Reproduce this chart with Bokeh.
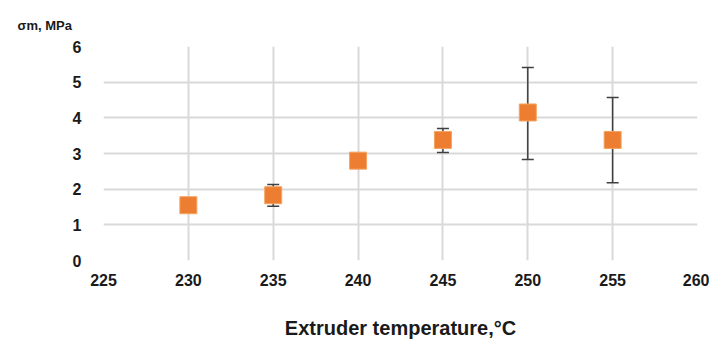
from bokeh.plotting import figure
from bokeh.models import ColumnDataSource, Whisker, TeeHead, FixedTicker, Title
from bokeh.embed import file_html
from bokeh.resources import INLINE

temperature = [230, 235, 240, 245, 250, 255]
sigma_m = [1.55, 1.83, 2.80, 3.38, 4.15, 3.38]
err_upper = [1.55, 2.13, 2.80, 3.70, 5.41, 4.57]
err_lower = [1.55, 1.52, 2.80, 3.03, 2.83, 2.18]
x_ticks = [225, 230, 235, 240, 245, 250, 255, 260]
y_ticks = [0, 1, 2, 3, 4, 5, 6]

src = ColumnDataSource(dict(x=temperature, y=sigma_m, upper=err_upper, lower=err_lower))

p = figure(width=709, height=342, output_backend="svg", toolbar_location=None,
           x_range=(225, 260), y_range=(0, 6),
           min_border_left=103, min_border_right=12, min_border_top=46, min_border_bottom=82)
p.outline_line_color = None
p.background_fill_color = "white"
p.border_fill_color = "white"

for ax in (p.xaxis[0], p.yaxis[0]):
    ax.axis_line_color = None
    ax.major_tick_line_color = None
    ax.minor_tick_line_color = None
    ax.major_tick_out = 0
    ax.major_tick_in = 0
    ax.major_label_text_font = "Liberation Sans"
    ax.major_label_text_font_style = "bold"
    ax.major_label_text_font_size = "16px"
    ax.major_label_text_color = "#1a1a1a"

p.xaxis.ticker = FixedTicker(ticks=x_ticks)
p.yaxis.ticker = FixedTicker(ticks=y_ticks)
p.xaxis.major_label_standoff = 13
p.yaxis.major_label_standoff = 22
p.xaxis.axis_label = "Extruder temperature,°C"
p.xaxis.axis_label_text_font = "Liberation Sans"
p.xaxis.axis_label_text_font_style = "bold"
p.xaxis.axis_label_text_font_size = "20px"
p.xaxis.axis_label_text_color = "#1a1a1a"
p.xaxis.axis_label_standoff = 28

p.grid.grid_line_color = "#d9d9d9"
p.grid.grid_line_width = 2

w = Whisker(source=src, base="x", upper="upper", lower="lower", dimension="height",
            line_color="#404040", line_width=1.5,
            upper_head=TeeHead(size=12, line_color="#404040", line_width=1.5),
            lower_head=TeeHead(size=12, line_color="#404040", line_width=1.5))
p.add_layout(w)

p.scatter("x", "y", source=src, marker="square", size=17,
          fill_color="#ED7D31", line_color="#F4A460", line_width=1)

t = Title(text="σm, MPa", align="left", offset=-86, standoff=28,
          text_font="Liberation Sans", text_font_style="bold", text_font_size="13px",
          text_color="#1a1a1a")
p.add_layout(t, "above")

open("out.html", "w").write(file_html(p, INLINE))
